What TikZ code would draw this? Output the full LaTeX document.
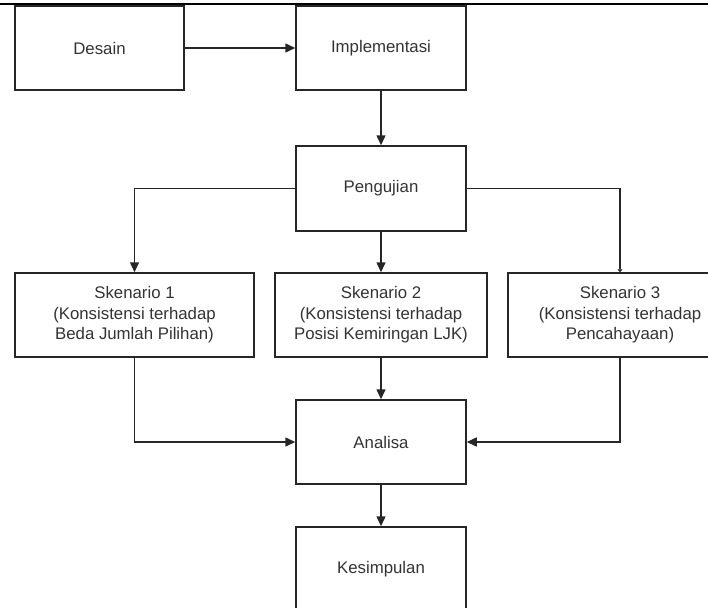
\documentclass[tikz,border=0pt]{standalone}
\usepackage{fontspec}
\setmainfont{Liberation Sans}
\usetikzlibrary{arrows.meta}
\definecolor{txt}{HTML}{333333}
\begin{document}
\begin{tikzpicture}[x=1pt,y=-1pt,
  box/.style={draw=black!85, line width=1.5pt, rectangle, inner sep=0pt,
    minimum height=84pt, align=center, text=txt,
    font=\fontsize{16.8}{20.5}\selectfont},
  conn/.style={draw=black!85, line width=1.5pt, -{Triangle[length=10pt,width=9pt]}},
  tinyconn/.style={draw=black!85, line width=1.5pt, -{Triangle[length=3pt,width=5pt]}}]
\useasboundingbox (0,0) rectangle (708,607);
\begin{scope}
\clip (0,0) rectangle (708,607);
\coordinate (tl) at (0,4);
\coordinate (tr) at (708,4);
\draw[line width=2pt, black] (tl) -- (tr);
\node[box, minimum width=169pt] (des) at (99.5,48) {Desain};
\node[box, minimum width=170pt] (imp) at (381,48) {Implementasi};
\node[box, minimum width=170pt, minimum height=85pt] (peng) at (381,188.5) {Pengujian};
\node[box, minimum width=239pt] (s1) at (134.5,315) {Skenario 1\\(Konsistensi terhadap\\Beda Jumlah Pilihan)};
\node[box, minimum width=212pt] (s2) at (381,315) {Skenario 2\\(Konsistensi terhadap\\Posisi Kemiringan LJK)};
\node[box, minimum width=224pt] (s3) at (620,315) {Skenario 3\\(Konsistensi terhadap\\Pencahayaan)};
\node[box, minimum width=170pt] (ana) at (381,442) {Analisa};
\node[box, minimum width=170pt] (kes) at (381,569) {Kesimpulan};
\draw[conn] (des.east) -- (imp.west);
\draw[conn] (imp.south) -- (peng.north);
\draw[conn] (peng.west) -| (s1.north);
\draw[conn] (peng.south) -- (s2.north);
\draw[tinyconn] (peng.east) -| (s3.north);
\draw[conn] (s1.south) |- (ana.west);
\draw[conn] (s2.south) -- (ana.north);
\draw[conn] (s3.south) |- (ana.east);
\draw[conn] (ana.south) -- (kes.north);
\end{scope}
\end{tikzpicture}
\end{document}
